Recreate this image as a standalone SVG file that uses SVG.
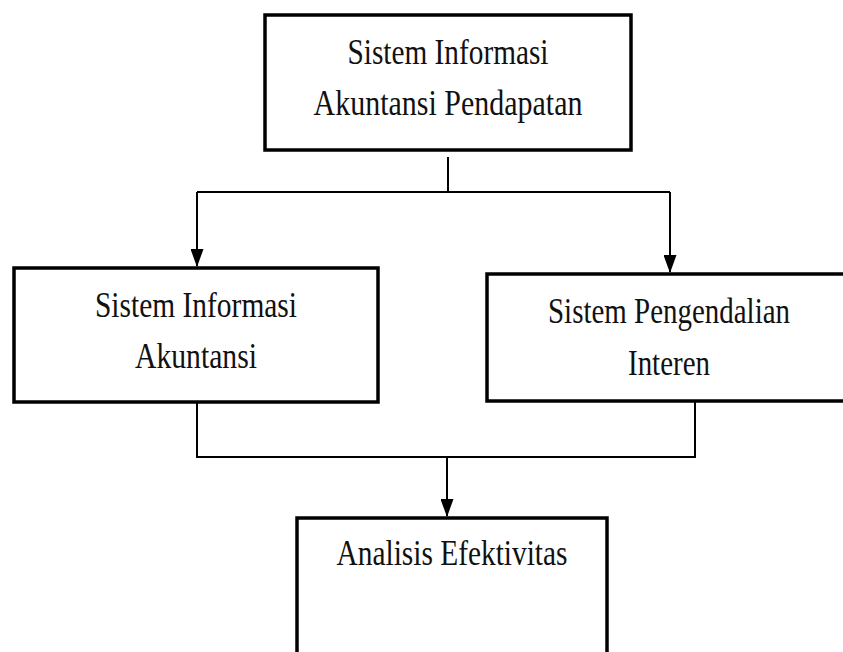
<svg xmlns="http://www.w3.org/2000/svg" width="843" height="652" viewBox="0 0 843 652">
<style>
.box{fill:#fff;stroke:#000;stroke-width:3.5}
.t{font-family:"Liberation Serif","Times New Roman",serif;font-size:35px;fill:#111;text-anchor:middle}
.c{fill:none;stroke:#000;stroke-width:2}
</style>
<defs>
<marker id="ad" markerUnits="userSpaceOnUse" markerWidth="18" markerHeight="13" refX="17" refY="6.5" orient="auto" viewBox="0 0 18 13">
<path d="M0,0 L18,6.5 L0,13 Z" fill="#000"/>
</marker>
</defs>
<rect width="843" height="652" fill="#fff"/>
<g id="connectors">
<path class="c" d="M448,157 V192"/>
<path class="c" d="M197,192 H670"/>
<path class="c" d="M197,192 V266" marker-end="url(#ad)"/>
<path class="c" d="M670,192 V272" marker-end="url(#ad)"/>
<path class="c" d="M197,402 V457 H695 V401"/>
<path class="c" d="M447,457 V516" marker-end="url(#ad)"/>
</g>
<g id="n-sia-pendapatan">
<rect class="box" x="265" y="15" width="366" height="135"/>
<text class="t" x="448" y="64" textLength="201" lengthAdjust="spacingAndGlyphs">Sistem Informasi</text>
<text class="t" x="448" y="115" textLength="269" lengthAdjust="spacingAndGlyphs">Akuntansi Pendapatan</text>
</g>
<g id="n-sia">
<rect class="box" x="14" y="268" width="364" height="134"/>
<text class="t" x="196" y="317" textLength="202" lengthAdjust="spacingAndGlyphs">Sistem Informasi</text>
<text class="t" x="196" y="368" textLength="122" lengthAdjust="spacingAndGlyphs">Akuntansi</text>
</g>
<g id="n-spi">
<rect class="box" x="487" y="274" width="370" height="127"/>
<text class="t" x="669" y="323" textLength="242" lengthAdjust="spacingAndGlyphs">Sistem Pengendalian</text>
<text class="t" x="669" y="375" textLength="82" lengthAdjust="spacingAndGlyphs">Interen</text>
</g>
<g id="n-analisis">
<rect class="box" x="297" y="518" width="310" height="150"/>
<text class="t" x="452" y="565" textLength="231" lengthAdjust="spacingAndGlyphs">Analisis Efektivitas</text>
</g>
</svg>
